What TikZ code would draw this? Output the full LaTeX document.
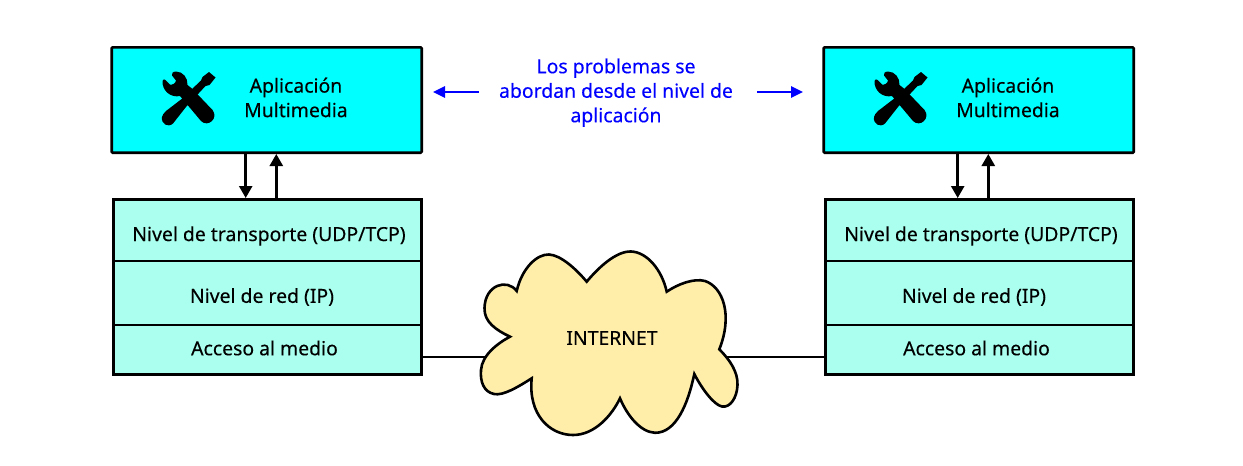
\documentclass[tikz,border=0pt]{standalone}
\usepackage{fontspec}
\setmainfont{Noto Sans}[FakeBold=0.25]
\usetikzlibrary{arrows.meta}
\definecolor{appc}{HTML}{00FFFF}
\definecolor{layc}{HTML}{AAFFEE}
\definecolor{cloudc}{HTML}{FFEEAA}
\tikzset{
  x=1pt,y=-1pt,
  appbox/.style={draw=black,line width=2.6pt,fill=appc,rounded corners=1pt,minimum width=310pt,minimum height=105.4pt,inner sep=0pt},
  laybox/.style={draw=black,line width=2.6pt,fill=layc,minimum width=308pt,inner sep=0pt},
  lab/.style={font=\fontsize{19.4}{24.5}\selectfont\bfseries,text=black,align=center,inner sep=0pt},
  bluelab/.style={lab,text=blue},
  vert/.style={draw=black,line width=2.5pt,-{Triangle[length=12pt,width=13pt]}},
  bluearr/.style={draw=blue,line width=2.5pt,-{Triangle[length=12pt,width=11pt]}},
  wire/.style={draw=black,line width=2.5pt},
  cloudsh/.style={draw=black,line width=2.6pt,fill=cloudc,line join=miter}
}
\newcommand{\toolicon}[1]{%
 \begin{scope}[shift={(#1,0)}]
  % wrench
  \fill[black] (176,71.5) .. controls (183,71.5) and (188,78) .. (187.5,85)
     -- (192,88.5) -- (212.5,110)
     .. controls (219,118) and (208,128) .. (201,121)
     -- (180,96) .. controls (171,98) and (162,91) .. (162.5,81)
     .. controls (163,79) and (164.5,79) .. (165.5,80)
     -- (170,84.5) .. controls (172,85.5) and (176,83) .. (176,80.5)
     -- (172,75.5) .. controls (171,73.5) and (173,71.5) .. (176,71.5) -- cycle;
  % screwdriver
  \fill[black] (209,72) -- (215.5,77.5) -- (209.5,85) -- (205.5,86)
     -- (186,107) -- (173,123.5)
     .. controls (168,128) and (161,124) .. (162,117)
     .. controls (162.5,115) and (163.5,113.5) .. (166,111)
     -- (181,99.5) -- (201,80.5) -- (202.5,77) -- cycle;
 \end{scope}}
\begin{document}
\begin{tikzpicture}
\useasboundingbox (0,0) rectangle (1243,466);
% left stack
\node[appbox] (appL) at (266.7,100) {};
\node[laybox,minimum height=62pt] (l1) at (267.5,230.3) {};
\node[laybox,minimum height=64pt] (l2) at (267.5,293) {};
\node[laybox,minimum height=49.5pt] (l3) at (267.5,349.8) {};
% right stack
\node[appbox] (appR) at (978.7,100) {};
\node[laybox,minimum height=62pt] (r1) at (979.5,230.3) {};
\node[laybox,minimum height=64pt] (r2) at (979.5,293) {};
\node[laybox,minimum height=49.5pt] (r3) at (979.5,349.8) {};
% labels
\node[lab] (tL) at (296,97.5) {Aplicación\\Multimedia};
\node[lab] (tR) at (1008,97.5) {Aplicación\\Multimedia};
\node[lab] (a1) at (269,236) {Nivel de transporte (UDP/TCP)};
\node[lab] (a2) at (262,297) {Nivel de red (IP)};
\node[lab] (a3) at (264.5,348) {Acceso al medio};
\node[lab] (b1) at (981,236) {Nivel de transporte (UDP/TCP)};
\node[lab] (b2) at (974,297) {Nivel de red (IP)};
\node[lab] (b3) at (976.5,348) {Acceso al medio};
\node[bluelab] (note) at (616,92.7) {Los problemas se\\abordan desde el nivel de\\aplicación};
% icons
\toolicon{0}
\toolicon{712}
% vertical arrows
\coordinate (d1) at (245.7,0); \coordinate (u1) at (276.3,0);
\coordinate (d2) at (957.7,0); \coordinate (u2) at (988.3,0);
\draw[vert] (appL.south -| d1) -- (l1.north -| d1);
\draw[vert] (l1.north -| u1) -- (appL.south -| u1);
\draw[vert] (appR.south -| d2) -- (r1.north -| d2);
\draw[vert] (r1.north -| u2) -- (appR.south -| u2);
% blue arrows
\coordinate (nl) at (479,92); \coordinate (nlt) at (433,92);
\coordinate (nr) at (757,92); \coordinate (nrt) at (803,92);
\draw[bluearr] (nl) -- (nlt);
\draw[bluearr] (nr) -- (nrt);
% wires
\coordinate (cl) at (500,357); \coordinate (cr) at (720,357);
\draw[wire] (l3.east |- cl) -- (cl);
\draw[wire] (cr) -- (r3.west |- cr);
% cloud
\draw[cloudsh] (510,336.7)
  .. controls (496,330) and (484,322) .. (484.5,308)
  .. controls (485,285) and (507,278) .. (516.7,291)
  .. controls (522,268) and (537,254) .. (549,254.5)
  .. controls (561,255) and (577,270) .. (586.7,281.7)
  .. controls (598,268) and (616,251) .. (631,251.5)
  .. controls (647,252) and (662,270) .. (666.7,291.7)
  .. controls (678,284) and (694,278) .. (705,281)
  .. controls (723,287) and (733,315) .. (719.3,349.3)
  .. controls (730,360) and (738,372) .. (737.5,385)
  .. controls (737,398) and (730,408) .. (722,406.5)
  .. controls (714,405) and (702,389) .. (694.3,374)
  .. controls (688,404) and (676,433) .. (655,432.8)
  .. controls (640,432) and (627,415) .. (620,398.3)
  .. controls (612,415) and (595,435) .. (573,435)
  .. controls (550,435) and (528,415) .. (531.7,378.3)
  .. controls (518,387) and (503,396) .. (494,394)
  .. controls (484,392) and (480,382) .. (481,370)
  .. controls (482,355) and (498,343) .. (510,336.7) -- cycle;
\node[lab] (net) at (612,338) {INTERNET};
\end{tikzpicture}
\end{document}
